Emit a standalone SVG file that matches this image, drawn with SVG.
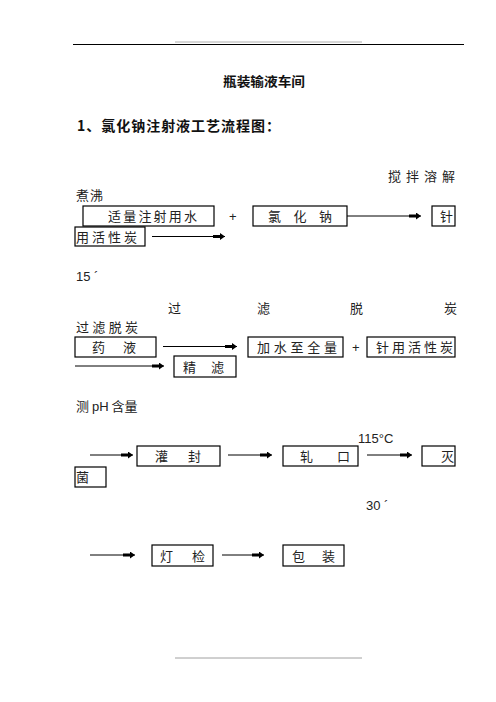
<svg xmlns="http://www.w3.org/2000/svg" width="496" height="702" viewBox="0 0 496 702">
<style>
.t{font-family:"Noto Sans CJK SC","Liberation Sans",sans-serif;font-size:13px;fill:#222}
.a{font-family:"Liberation Sans","Noto Sans CJK SC",sans-serif;font-size:13px;fill:#222}
.b{font-family:"Noto Sans CJK SC",sans-serif;font-weight:bold;fill:#111}
.box{fill:#fff;stroke:#000;stroke-width:1.2}
.ln{stroke:#000;stroke-width:1;fill:none;marker-end:url(#ah)}
</style>
<defs>
<marker id="ah" viewBox="0 0 12 7" refX="12" refY="3.5" markerWidth="12" markerHeight="7" markerUnits="userSpaceOnUse" orient="auto">
<path d="M0,2 L7,2 L7,0 L12,3.5 L7,7 L7,5 L0,5 Z" fill="#000"/>
</marker>
</defs>
<rect width="496" height="702" fill="#fff"/>
<g id="header">
<line x1="175" y1="42" x2="362" y2="42" stroke="#999" stroke-width="0.8"/>
<line x1="73" y1="44.5" x2="464" y2="44.5" stroke="#000" stroke-width="1"/>
</g>
<g id="footer">
<line x1="175" y1="658" x2="362" y2="658" stroke="#888" stroke-width="0.8"/>
</g>
<text class="b" x="223" y="86" font-size="13" textLength="82" lengthAdjust="spacingAndGlyphs">瓶装输液车间</text>
<text class="b" x="77" y="131" font-size="14" textLength="203" lengthAdjust="spacing">1、氯化钠注射液工艺流程图：</text>

<text class="t" x="388" y="181" textLength="67" lengthAdjust="spacing">搅拌溶解</text>
<text class="t" x="76" y="200" textLength="27" lengthAdjust="spacing">煮沸</text>

<g id="n-water"><rect class="box" x="83" y="206" width="131" height="20"/><text class="t" x="108" y="221" textLength="89" lengthAdjust="spacing">适量注射用水</text></g>
<text class="a" x="229" y="221">+</text>
<g id="n-nacl"><rect class="box" x="253" y="206" width="94" height="20"/><text class="t" x="268" y="221" textLength="64" lengthAdjust="spacing">氯化钠</text></g>
<g id="n-zhen"><rect class="box" x="432" y="206" width="23" height="20"/><text class="t" x="440" y="221">针</text></g>
<g id="n-carbon"><rect class="box" x="75" y="227" width="70" height="19"/><text class="t" x="76" y="242" textLength="61" lengthAdjust="spacing">用活性炭</text></g>

<text class="a" x="76" y="281">15 ´</text>
<g id="t-filter">
<text class="t" x="168" y="313">过</text>
<text class="t" x="257" y="313">滤</text>
<text class="t" x="350" y="313">脱</text>
<text class="t" x="444" y="313">炭</text>
</g>
<text class="t" x="76" y="332" textLength="62" lengthAdjust="spacing">过滤脱炭</text>

<g id="n-yaoye"><rect class="box" x="75" y="337" width="81" height="20"/><text class="t" x="92" y="352" textLength="44" lengthAdjust="spacing">药液</text></g>
<g id="n-jiashui"><rect class="box" x="248" y="337" width="95" height="20"/><text class="t" x="257" y="352" textLength="80" lengthAdjust="spacing">加水至全量</text></g>
<text class="a" x="352" y="352">+</text>
<g id="n-zhenyong"><rect class="box" x="367" y="337" width="88" height="20"/><text class="t" x="376" y="352" textLength="77" lengthAdjust="spacing">针用活性炭</text></g>
<g id="n-jinglv"><rect class="box" x="174" y="356" width="62" height="21"/><text class="t" x="183" y="372" textLength="41" lengthAdjust="spacing">精滤</text></g>

<text class="t" x="76" y="411">测 <tspan class="a">pH</tspan> 含量</text>

<text class="a" x="358" y="443">115°C</text>
<g id="n-guanfeng"><rect class="box" x="137" y="446" width="83" height="20"/><text class="t" x="155" y="461" textLength="46" lengthAdjust="spacing">灌封</text></g>
<g id="n-zhakou"><rect class="box" x="283" y="446" width="75" height="20"/><text class="t" x="300" y="461" textLength="50" lengthAdjust="spacing">轧口</text></g>
<g id="n-mie"><rect class="box" x="422" y="446" width="33" height="20"/><text class="t" x="441" y="461">灭</text></g>
<g id="n-jun"><rect class="box" x="75" y="467" width="31" height="20"/><text class="t" x="76" y="482">菌</text></g>

<text class="a" x="366" y="510">30 ´</text>
<g id="n-dengjian"><rect class="box" x="152" y="545" width="61" height="21"/><text class="t" x="160" y="561" textLength="45" lengthAdjust="spacing">灯检</text></g>
<g id="n-baozhuang"><rect class="box" x="283" y="545" width="61" height="21"/><text class="t" x="292" y="561" textLength="43" lengthAdjust="spacing">包装</text></g>

<g id="connectors">
<line class="ln" x1="347" y1="216" x2="421" y2="216"/>
<line class="ln" x1="152" y1="236.5" x2="225" y2="236.5"/>
<line class="ln" x1="163" y1="346.5" x2="237" y2="346.5"/>
<line class="ln" x1="75" y1="366" x2="164" y2="366"/>
<line class="ln" x1="90" y1="455" x2="133" y2="455"/>
<line class="ln" x1="228" y1="455" x2="272" y2="455"/>
<line class="ln" x1="367" y1="455" x2="412" y2="455"/>
<line class="ln" x1="90" y1="555" x2="135" y2="555"/>
<line class="ln" x1="222" y1="555" x2="264" y2="555"/>
</g>
</svg>
